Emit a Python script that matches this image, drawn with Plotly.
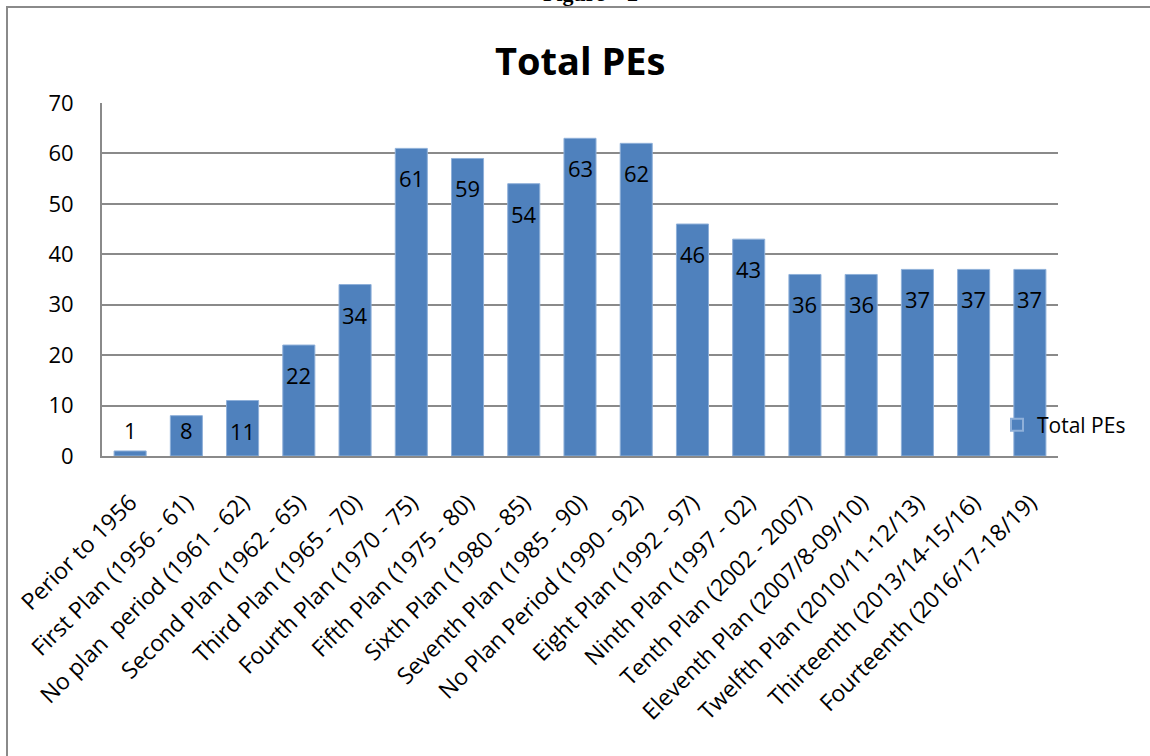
import plotly.graph_objects as go

categories = [
    "Perior to 1956",
    "First Plan (1956 - 61)",
    "No plan\u00a0 period (1961 - 62)",
    "Second Plan (1962 - 65)",
    "Third Plan (1965 - 70)",
    "Fourth Plan (1970 - 75)",
    "Fifth Plan (1975 - 80)",
    "Sixth Plan (1980 - 85)",
    "Seventh Plan (1985 - 90)",
    "No Plan Period (1990 - 92)",
    "Eight Plan (1992 - 97)",
    "Ninth Plan (1997 - 02)",
    "Tenth Plan (2002 - 2007)",
    "Eleventh Plan (2007/8-09/10)",
    "Twelfth Plan (2010/11-12/13)",
    "Thirteenth (2013/14-15/16)",
    "Fourteenth (2016/17-18/19)",
]
total_pes = [1, 8, 11, 22, 34, 61, 59, 54, 63, 62, 46, 43, 36, 36, 37, 37, 37]
y_ticks = [0, 10, 20, 30, 40, 50, 60, 70]

FONT = "Open Sans"
W, H = 1150, 756
ML, MR, MT, MB = 102, 92, 103, 300
PW, PH = W - ML - MR, H - MT - MB

def px_x(p):
    return (p - ML) / PW

def px_y(p):
    return (H - MB - p) / PH

fig = go.Figure()
fig.add_trace(go.Bar(
    x=categories, y=total_pes, name="Total PEs",
    marker=dict(color="#4F81BD", line=dict(color="#8fb0d9", width=1)),
    hoverinfo="x+y",
))

annotations = []
for c, v in zip(categories, total_pes):
    if v >= 11:
        annotations.append(dict(x=c, y=v, xref="x", yref="y", text=str(v),
                                showarrow=False, yshift=-30, yanchor="middle",
                                font=dict(family=FONT, size=22, color="black")))
    else:
        annotations.append(dict(x=c, y=0, xref="x", yref="y", text=str(v),
                                showarrow=False, yshift=26, yanchor="middle",
                                font=dict(family=FONT, size=22, color="black")))

annotations.append(dict(x=0.5, y=px_y(60), xref="paper", yref="paper",
                        text="<b>Total PEs</b>", showarrow=False,
                        xanchor="center", yanchor="middle",
                        font=dict(family=FONT, size=38, color="black")))
annotations.append(dict(x=px_x(590), y=px_y(8), xref="paper", yref="paper",
                        text="<b>Figure \u2013 2</b>", showarrow=False,
                        xanchor="center", yanchor="bottom",
                        font=dict(family="Liberation Serif", size=22, color="black")))

fig.update_layout(
    width=W, height=H,
    margin=dict(l=ML, r=MR, t=MT, b=MB, pad=0),
    paper_bgcolor="white", plot_bgcolor="white",
    bargap=0.43,
    font=dict(family=FONT, size=22, color="black"),
    showlegend=True,
    legend=dict(x=px_x(997), y=px_y(425), xanchor="left", yanchor="middle",
                bgcolor="rgba(0,0,0,0)", font=dict(family=FONT, size=21, color="black"),
                itemsizing="constant"),
    annotations=annotations,
    shapes=[dict(type="rect", xref="paper", yref="paper",
                 x0=px_x(7), x1=px_x(1170), y0=px_y(7), y1=px_y(800),
                 line=dict(color="#8a8a8a", width=2), layer="above")],
)
fig.update_xaxes(
    type="category", tickangle=-45, showgrid=False,
    showline=True, linecolor="#8a8a8a", linewidth=2,
    ticks="", ticklabelstandoff=22,
    tickfont=dict(family=FONT, size=23, color="black"),
)
fig.update_yaxes(
    range=[0, 70], tickvals=y_ticks, showgrid=True, gridcolor="#8a8a8a", gridwidth=2,
    showline=True, linecolor="#8a8a8a", linewidth=2, zeroline=False,
    ticks="", ticklabelstandoff=22,
    tickfont=dict(family=FONT, size=22, color="black"),
)

fig.write_html("out.html")
